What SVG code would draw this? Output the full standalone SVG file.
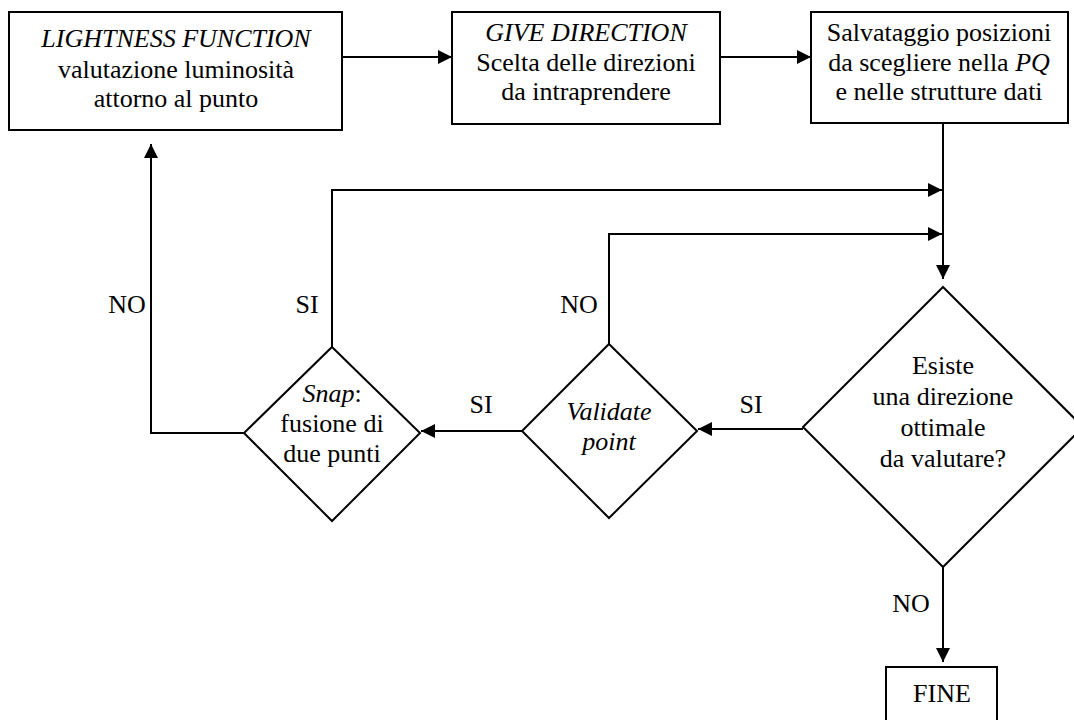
<svg xmlns="http://www.w3.org/2000/svg" width="1074" height="720" viewBox="0 0 1074 720" font-family="'Liberation Serif', 'Times New Roman', 'DejaVu Serif', serif">
<defs>
<marker id="ah" markerUnits="userSpaceOnUse" markerWidth="15" markerHeight="14" refX="14" refY="7" orient="auto">
<path d="M0,0 L14,7 L0,14 z" fill="#000"/>
</marker>
<style>
.shape{fill:#fff;stroke:#000;stroke-width:2}
.conn{fill:none;stroke:#000;stroke-width:2;marker-end:url(#ah)}
text{font-family:'Liberation Serif','Times New Roman','DejaVu Serif',serif;font-size:26px;fill:#000;text-anchor:middle}
.it{font-style:italic}
</style>
</defs>
<rect width="1074" height="720" fill="#fff"/>
<g id="connectors">
<path class="conn" d="M342,57 H452"/>
<path class="conn" d="M720,57 H811"/>
<path class="conn" d="M943,122 V279"/>
<path class="conn" d="M332,347 V190 H942"/>
<path class="conn" d="M609,344 V234 H942"/>
<path class="conn" d="M803,429 H698"/>
<path class="conn" d="M522,431 H421"/>
<path class="conn" d="M244,433 H151 V144"/>
<path class="conn" d="M943,567 V662"/>
</g>
<g id="labels">
<text x="127" y="313">NO</text>
<text x="307" y="313">SI</text>
<text x="579" y="313">NO</text>
<text x="481" y="413">SI</text>
<text x="751" y="413">SI</text>
<text x="911" y="612">NO</text>
</g>
<g id="lightness">
<rect class="shape" x="9" y="12" width="333" height="118"/>
<text x="176" y="47" class="it">LIGHTNESS FUNCTION</text>
<text x="176" y="78">valutazione luminosità</text>
<text x="176" y="107">attorno al punto</text>
</g>
<g id="givedirection">
<rect class="shape" x="452" y="12" width="268" height="112"/>
<text x="586" y="41" class="it">GIVE DIRECTION</text>
<text x="586" y="71">Scelta delle direzioni</text>
<text x="586" y="100">da intraprendere</text>
</g>
<g id="salvataggio">
<rect class="shape" x="811" y="12" width="257" height="111"/>
<text x="939" y="41">Salvataggio posizioni</text>
<text x="939" y="71">da scegliere nella <tspan class="it">PQ</tspan></text>
<text x="939" y="100">e nelle strutture dati</text>
</g>
<g id="esiste">
<polygon class="shape" points="943,287 1083,427 943,567 803,427"/>
<text x="943" y="374">Esiste</text>
<text x="943" y="405">una direzione</text>
<text x="943" y="436">ottimale</text>
<text x="943" y="467">da valutare?</text>
</g>
<g id="validate">
<polygon class="shape" points="609,344 697,431 609,518 522,431"/>
<text x="609" y="420" class="it">Validate</text>
<text x="609" y="450" class="it">point</text>
</g>
<g id="snap">
<polygon class="shape" points="332,347 420,433 332,521 244,433"/>
<text x="332" y="402"><tspan class="it">Snap</tspan>:</text>
<text x="332" y="432">fusione di</text>
<text x="332" y="462">due punti</text>
</g>
<g id="fine">
<rect class="shape" x="886" y="667" width="111" height="70"/>
<text x="942" y="702">FINE</text>
</g>
</svg>
